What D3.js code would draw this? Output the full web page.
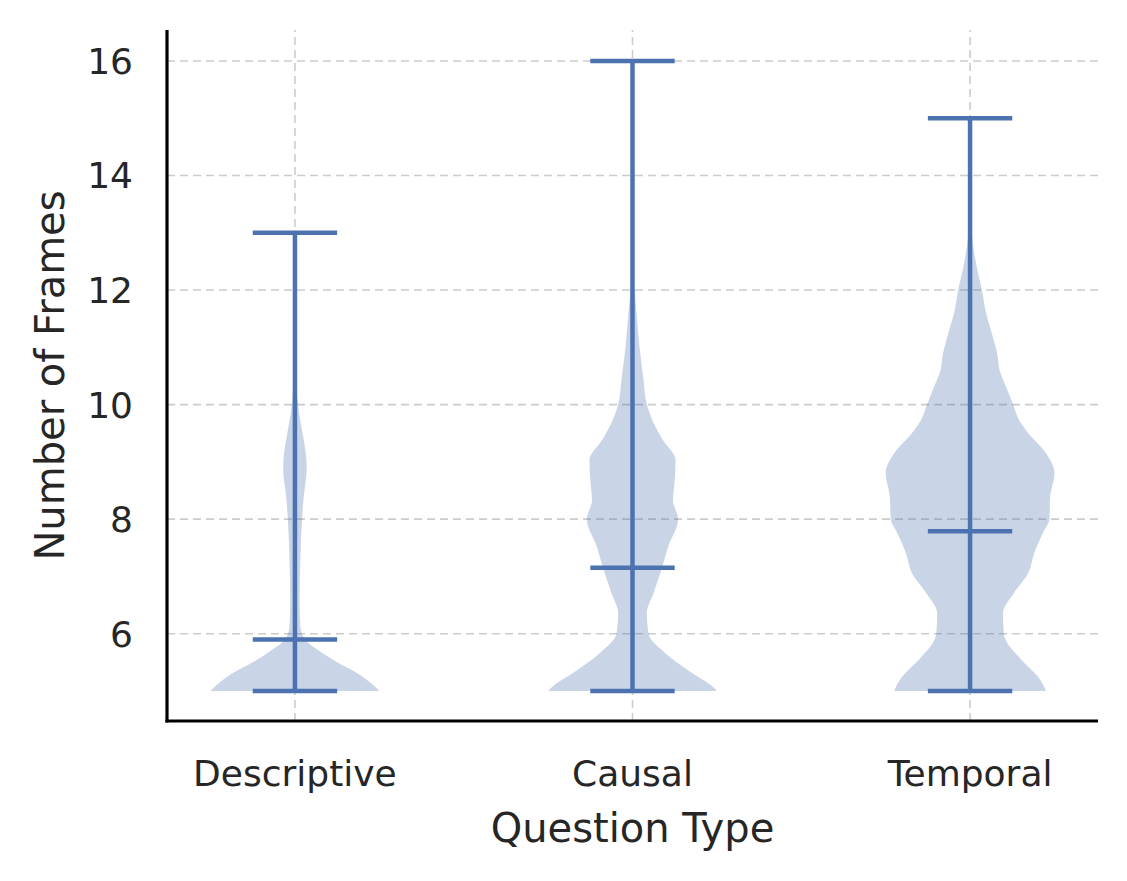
<!DOCTYPE html>
<html>
<head>
<meta charset="utf-8">
<script src="https://cdn.jsdelivr.net/npm/d3@7"></script>
<style>
  body { margin: 0; background: #fff; }
  svg text { font-family: "DejaVu Sans", sans-serif; fill: #262626; }
</style>
</head>
<body>
<div id="chart"></div>
<script>
// question types and the yTicks
const categories = ['Descriptive', 'Causal', 'Temporal'];
const yTicks = [6, 8, 10, 12, 14, 16];

// min / max / mean of each group
const mins = [5, 5, 5];
const maxs = [13, 16, 15];
const means = [5.9, 7.15, 7.79];

// density profile: [frames, relative width]
const densDescriptive = [[5.0, 1.0], [5.1, 0.93], [5.31, 0.74], [5.5, 0.5], [5.66, 0.33], [5.9, 0.12], [6.12, 0.065],
  [6.6, 0.055], [7.3, 0.065], [7.75, 0.075], [8.33, 0.1], [8.9, 0.14], [9.2, 0.125], [9.5, 0.09], [9.9, 0.045],
  [10.3, 0.02], [11, 0.006], [12, 0.002], [13, 0]];
const densCausal = [[5.0, 1.0], [5.1, 0.93], [5.31, 0.71], [5.66, 0.39], [6.0, 0.19], [6.36, 0.17], [6.71, 0.25],
  [7.15, 0.35], [7.51, 0.42], [8.0, 0.54], [8.33, 0.48], [8.68, 0.5], [9.03, 0.51], [9.38, 0.36], [9.68, 0.25],
  [10.0, 0.17], [10.44, 0.13], [11.0, 0.083], [11.6, 0.048], [12.0, 0.024], [12.5, 0.01], [13.5, 0.003], [16, 0]];
const densTemporal = [[5.0, 0.9], [5.24, 0.81], [5.54, 0.61], [6.0, 0.4], [6.36, 0.39], [6.71, 0.52], [7.06, 0.69],
  [7.41, 0.76], [7.78, 0.87], [8.0, 0.94], [8.39, 0.95], [8.8, 1.0], [9.15, 0.9], [9.5, 0.69], [9.73, 0.58],
  [10.0, 0.51], [10.3, 0.43], [10.6, 0.35], [10.9, 0.32], [11.18, 0.27], [11.6, 0.19], [12.0, 0.14], [12.47, 0.07],
  [12.93, 0.024], [13.5, 0.006], [14, 0.002], [15, 0]];
const densities = [densDescriptive, densCausal, densTemporal];

const width = 1127, height = 881;
const margin = { left: 167, right: 29, top: 30, bottom: 160 };
const blue = '#4c72b0';
const vWidth = 0.5; // violin width in category units

const svg = d3.select('#chart').append('svg')
  .attr('width', width).attr('height', height);

const x = d3.scaleLinear().domain([0.621, 3.379]).range([margin.left, width - margin.right]);
const y = d3.scaleLinear().domain([4.476, 16.54]).range([height - margin.bottom, margin.top]);

// grid
const grid = svg.append('g')
  .attr('stroke', '#cccccc').attr('stroke-width', 1.6).attr('stroke-dasharray', '8,5');
grid.selectAll('.hg').data(yTicks).join('line')
  .attr('x1', x.range()[0]).attr('x2', x.range()[1])
  .attr('y1', d => y(d)).attr('y2', d => y(d));
grid.selectAll('.vg').data(categories).join('line')
  .attr('x1', (d, i) => x(i + 1)).attr('x2', (d, i) => x(i + 1))
  .attr('y1', y.range()[0]).attr('y2', y.range()[1]);

// violins
const half = d => x(vWidth / 2 * d) - x(0);
categories.forEach(function(cat, i) {
  const cx = x(i + 1);
  const area = d3.area()
    .y(d => y(d[0]))
    .x0(d => cx - half(d[1]))
    .x1(d => cx + half(d[1]))
    .curve(d3.curveMonotoneY);
  svg.append('path')
    .attr('d', area(densities[i]))
    .attr('fill', blue).attr('fill-opacity', 0.3);

  const cap = x(vWidth / 4) - x(0);
  const g = svg.append('g').attr('stroke', blue).attr('stroke-width', 4.5);
  g.append('line').attr('x1', cx).attr('x2', cx).attr('y1', y(mins[i])).attr('y2', y(maxs[i]));
  [mins[i], maxs[i], means[i]].forEach(v => {
    g.append('line').attr('x1', cx - cap).attr('x2', cx + cap).attr('y1', y(v)).attr('y2', y(v));
  });
});

// spines
svg.append('line').attr('x1', x.range()[0]).attr('x2', x.range()[0])
  .attr('y1', y.range()[0] + 1.5).attr('y2', y.range()[1]).attr('stroke', '#000').attr('stroke-width', 3.2);
svg.append('line').attr('x1', x.range()[0] - 1.5).attr('x2', x.range()[1])
  .attr('y1', y.range()[0]).attr('y2', y.range()[0]).attr('stroke', '#000').attr('stroke-width', 3.2);

// tick labels
svg.selectAll('.yt').data(yTicks).join('text')
  .attr('x', 133).attr('y', d => y(d)).attr('dy', '0.36em')
  .attr('text-anchor', 'end').attr('font-size', 36).text(d => d);
svg.selectAll('.xt').data(categories).join('text')
  .attr('x', (d, i) => x(i + 1)).attr('y', 786)
  .attr('text-anchor', 'middle').attr('font-size', 36).text(d => d);

// axis titles
svg.append('text').attr('x', (x.range()[0] + x.range()[1]) / 2).attr('y', 842)
  .attr('text-anchor', 'middle').attr('font-size', 40).text('Question Type');
svg.append('text')
  .attr('transform', `translate(64,${(y.range()[0] + y.range()[1]) / 2}) rotate(-90)`)
  .attr('text-anchor', 'middle').attr('font-size', 40).text('Number of Frames');
</script>
</body>
</html>
